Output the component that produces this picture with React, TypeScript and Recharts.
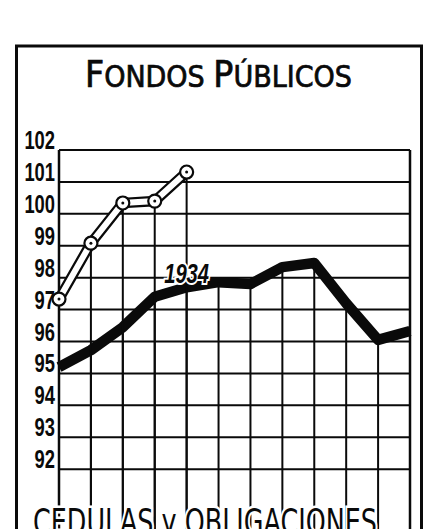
import { LineChart, Line, XAxis, YAxis, CartesianGrid, ReferenceLine, LabelList } from "recharts";

// months of the year (not printed on the chart)
const months = ["Ene", "Feb", "Mar", "Abr", "May", "Jun", "Jul", "Ago", "Sep", "Oct", "Nov", "Dic"];
// thick black line, labelled 1934
const serie1934 = [95.2, 95.73, 96.45, 97.4, 97.7, 97.86, 97.8, 98.33, 98.46, 97.2, 96.05, 96.33];
// hollow line with rings, first months of the next year
const serie1935 = [97.33, 99.08, 100.34, 100.4, 101.31, null, null, null, null, null, null, null];
const yTicks = [92, 93, 94, 95, 96, 97, 98, 99, 100, 101, 102];

const rows = months.map((mes, i) => ({ mes, a1934: serie1934[i], a1935: serie1935[i] }));

const INK = "#0a0a0a";
const W = 442;
const H = 533; // a bit taller than the page, the bottom is cut like the scan
const NARROW = "'Liberation Sans Narrow', 'Liberation Sans', sans-serif";

// vertical rule dropped from every point of the thick line
const dropDot = (props: any) => {
  const { cx, cy, index } = props;
  if (cx == null || cy == null) return <g key={`d${index}`} />;
  return <line key={`d${index}`} x1={cx} y1={cy} x2={cx} y2={H} stroke={INK} strokeWidth={2} />;
};

// ring marker + its vertical rule
const ringDot = (props: any) => {
  const { cx, cy, index, value } = props;
  if (cx == null || cy == null || value == null) return <g key={`r${index}`} />;
  return (
    <g key={`r${index}`}>
      <line x1={cx} y1={cy + 6} x2={cx} y2={H} stroke={INK} strokeWidth={2} />
      <circle cx={cx} cy={cy} r={6.5} fill="#fff" stroke={INK} strokeWidth={2.2} />
      <circle cx={cx} cy={cy} r={1.5} fill={INK} />
    </g>
  );
};

const YTick = (props: any) => {
  const { x, y, payload } = props;
  const s = String(payload.value);
  return (
    <text
      x={x}
      y={y - 1}
      textAnchor="end"
      fontFamily={NARROW}
      fontWeight="bold"
      fontSize={26}
      fill={INK}
      textLength={s.length * 10.2}
      lengthAdjust="spacingAndGlyphs"
    >
      {s}
    </text>
  );
};

const yearLabel = (props: any) => {
  const { x, y, index } = props;
  if (index !== 4) return null;
  return (
    <text
      key="year"
      x={x}
      y={y - 4}
      textAnchor="middle"
      fontFamily={NARROW}
      fontStyle="italic"
      fontWeight="bold"
      fontSize={27}
      fill={INK}
      stroke="#fff"
      strokeWidth={4}
      paintOrder="stroke"
      textLength={45}
      lengthAdjust="spacingAndGlyphs"
    >
      1934
    </text>
  );
};

export default function App() {
  return (
    <div
      style={{
        position: "absolute",
        left: 0,
        top: 0,
        width: W,
        height: 529,
        overflow: "hidden",
        background: "#fff",
      }}
    >
      <LineChart width={W} height={H} data={rows} margin={{ top: 150, right: 32, bottom: 0, left: 0 }}>
        <CartesianGrid vertical={false} stroke={INK} strokeWidth={2} />
        <XAxis dataKey="mes" hide padding={{ left: 0, right: 0 }} />
        <YAxis
          width={59}
          domain={[90, 102]}
          ticks={yTicks}
          interval={0}
          allowDataOverflow
          axisLine={false}
          tickLine={false}
          tickSize={0}
          tickMargin={4}
          tick={<YTick />}
        />
        <ReferenceLine x="Ene" stroke={INK} strokeWidth={2.5} />
        <ReferenceLine x="Dic" stroke={INK} strokeWidth={2.5} />

        <Line
          dataKey="a1934"
          stroke={INK}
          strokeWidth={10.5}
          strokeLinejoin="round"
          dot={dropDot}
          activeDot={false}
          isAnimationActive={false}
        >
          <LabelList dataKey="a1934" content={yearLabel} />
        </Line>

        <Line
          dataKey="a1935"
          stroke={INK}
          strokeWidth={10.5}
          dot={false}
          activeDot={false}
          connectNulls={false}
          isAnimationActive={false}
        />
        <Line
          dataKey="a1935"
          stroke="#fff"
          strokeWidth={6}
          dot={ringDot}
          activeDot={false}
          connectNulls={false}
          isAnimationActive={false}
        />
      </LineChart>

      {/* frame of the page and the printed titles */}
      <svg width={W} height={529} style={{ position: "absolute", left: 0, top: 0, pointerEvents: "none" }}>
        <polyline points="16.5,529 16.5,46 421.5,46 421.5,529" fill="none" stroke={INK} strokeWidth={3} />
        <text
          x={85}
          y={87}
          fontFamily="'DejaVu Sans Condensed', 'DejaVu Sans', sans-serif"
          fill={INK}
          stroke={INK}
          strokeWidth={0.7}
        >
          <tspan fontSize={37}>F</tspan>
          <tspan fontSize={30}>ONDOS </tspan>
          <tspan fontSize={37}>P</tspan>
          <tspan fontSize={30}>ÚBLICOS</tspan>
        </text>
        <text
          x={33}
          y={534}
          fontFamily="'DejaVu Sans Condensed', 'DejaVu Sans', sans-serif"
          fontSize={36}
          fill={INK}
          stroke="#fff"
          strokeWidth={5}
          paintOrder="stroke"
          textLength={344}
          lengthAdjust="spacingAndGlyphs"
        >
          CEDULAS y OBLIGACIONES
        </text>
      </svg>
    </div>
  );
}
